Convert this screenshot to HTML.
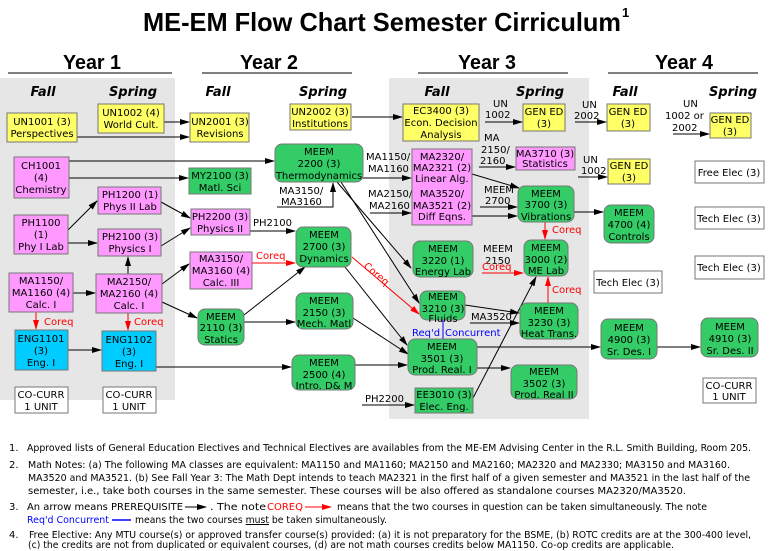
<!DOCTYPE html>
<html><head><meta charset="utf-8"><style>
body{margin:0;background:#fff}
svg{display:block}
text{font-family:"DejaVu Sans","Liberation Sans",sans-serif;font-size:10px;fill:#000}
.b text{text-anchor:middle}
.t{font-family:"Liberation Sans",sans-serif;font-weight:bold}
.s{font-family:"DejaVu Sans",sans-serif;font-weight:bold;font-style:italic;font-size:13px;text-anchor:middle}
.y{fill:#ffff66;stroke:#777;stroke-width:1}
.p{fill:#ff99ff;stroke:#777;stroke-width:1}
.g{fill:#33cc66;stroke:#777;stroke-width:1}
.c{fill:#00ccff;stroke:#777;stroke-width:1}
.w{fill:#fff;stroke:#777;stroke-width:1}
.l{stroke:#000;stroke-width:1;fill:none}
.r{stroke:#f00;stroke-width:1;fill:none}
.red{fill:#f00}
.n{font-family:"Liberation Sans",sans-serif;font-size:9.6px}
</style></head><body>
<svg width="771" height="551" xmlns="http://www.w3.org/2000/svg">
<defs>
<marker id="a" markerWidth="10" markerHeight="8" refX="9" refY="4" orient="auto" markerUnits="userSpaceOnUse"><path d="M0,1 L10,4 L0,7 z" fill="#000"/></marker>
<marker id="ar" markerWidth="10" markerHeight="8" refX="9" refY="4" orient="auto" markerUnits="userSpaceOnUse"><path d="M0,1 L10,4 L0,7 z" fill="#f00"/></marker>
</defs>
<rect x="0" y="78" width="175" height="322" fill="#e6e6e6"/>
<rect x="389" y="78" width="200" height="341" fill="#e6e6e6"/>

<text class="t" x="143" y="31" style="font-size:26px" textLength="478" lengthAdjust="spacingAndGlyphs">ME-EM Flow Chart Semester Cirriculum</text>
<text class="t" x="622" y="17" style="font-size:13px">1</text>
<text class="t" x="63" y="69" style="font-size:20px" textLength="58" lengthAdjust="spacingAndGlyphs">Year 1</text>
<text class="t" x="240" y="69" style="font-size:20px" textLength="58" lengthAdjust="spacingAndGlyphs">Year 2</text>
<text class="t" x="458" y="69" style="font-size:20px" textLength="58" lengthAdjust="spacingAndGlyphs">Year 3</text>
<text class="t" x="655" y="69" style="font-size:20px" textLength="58" lengthAdjust="spacingAndGlyphs">Year 4</text>
<line x1="8" y1="73" x2="172" y2="73" stroke="#000"/>
<line x1="202" y1="73" x2="352" y2="73" stroke="#000"/>
<line x1="418" y1="73" x2="568" y2="73" stroke="#000"/>
<line x1="608" y1="73" x2="758" y2="73" stroke="#000"/>
<text class="s" x="43" y="96">Fall</text>
<text class="s" x="133" y="96">Spring</text>
<text class="s" x="218" y="96">Fall</text>
<text class="s" x="323" y="96">Spring</text>
<text class="s" x="437" y="96">Fall</text>
<text class="s" x="540" y="96">Spring</text>
<text class="s" x="625" y="96">Fall</text>
<text class="s" x="733" y="96">Spring</text>

<g class="l" marker-end="url(#a)">
<path d="M77,137 H189"/>
<path d="M164,122 H189"/>
<path d="M352,117 H402"/>
<path d="M69,161 H274"/>
<path d="M69,178 H188"/>
<path d="M68,230 L97,201"/>
<path d="M68,243 H97"/>
<path d="M161,202 L190,218"/>
<path d="M161,246 L190,228"/>
<path d="M250,231 H295"/>
<path d="M73,293 H95"/>
<path d="M128,274 V257"/>
<path d="M162,284 L189,264"/>
<path d="M162,302 L197,318"/>
<path d="M244,315 L305,267"/>
<path d="M244,322 H295"/>
<path d="M68,350 H101"/>
<path d="M156,367 H291"/>
<path d="M277,207 H333 V183"/>
<path d="M363,178 H411"/>
<path d="M370,213 H411"/>
<path d="M337,182 L411,268"/>
<path d="M341,182 L419,303"/>
<path d="M345,267 L407,345"/>
<path d="M353,318 L408,354"/>
<path d="M355,365 H407"/>
<path d="M362,405 H414"/>
<path d="M473,398 L536,277"/>
<path d="M465,305 L519,313"/>
<path d="M470,323 H519"/>
<path d="M472,174 L519,188"/>
<path d="M472,216 H517"/>
<path d="M480,207 H517"/>
<path d="M485,122 H522"/>
<path d="M479,167 H515"/>
<path d="M575,122 H606"/>
<path d="M578,177 H607"/>
<path d="M574,212 H603"/>
<path d="M673,134 H709"/>
<path d="M477,347 H600"/>
<path d="M657,347 H700"/>
<path d="M477,368 H510"/>
</g>
<g class="r" marker-end="url(#ar)">
<path d="M252,263 H295"/>
<path d="M352,257 L419,314"/>
<path d="M36,312 V329"/>
<path d="M128,313 V330"/>
<path d="M482,273 H523"/>
<path d="M548,303 V277"/>
<path d="M545,222 V239"/>
</g>
<line x1="443" y1="320" x2="443" y2="340" stroke="#00f"/>

<g>
<text x="253" y="226">PH2100</text>
<text class="red" x="256" y="259">Coreq</text>
<text class="red" x="44" y="325">Coreq</text>
<text class="red" x="134" y="325">Coreq</text>
<text x="279" y="194">MA3150/</text>
<text x="281" y="205">MA3160</text>
<text x="366" y="160">MA1150/</text>
<text x="368" y="172">MA1160</text>
<text x="368" y="197">MA2150/</text>
<text x="369" y="209">MA2160</text>
<text class="red" x="363" y="267" transform="rotate(40 363 267)">Coreq</text>
<text x="484" y="193">MEEM</text>
<text x="485" y="204">2700</text>
<text x="483" y="252">MEEM</text>
<text x="485" y="264">2150</text>
<text class="red" x="482" y="270">Coreq</text>
<text class="red" x="552" y="233">Coreq</text>
<text class="red" x="552" y="293">Coreq</text>
<text x="471" y="320">MA3520</text>
<text x="412" y="336" style="fill:#00f">Req'd</text>
<text x="445" y="336" style="fill:#00f">Concurrent</text>
<text x="365" y="402">PH2200</text>
<text x="493" y="107">UN</text>
<text x="485" y="118">1002</text>
<text x="484" y="141">MA</text>
<text x="481" y="153">2150/</text>
<text x="480" y="164">2160</text>
<text x="582" y="108">UN</text>
<text x="574" y="119">2002</text>
<text x="583" y="163">UN</text>
<text x="581" y="174">1002</text>
<text x="683" y="107">UN</text>
<text x="665" y="119">1002 or</text>
<text x="672" y="131">2002</text>
</g>

<g class="b">
<rect class="y" x="7" y="113" width="70" height="29"/><text x="42" y="125">UN1001 (3)</text><text x="42" y="137">Perspectives</text>
<rect class="y" x="98" y="104" width="66" height="29"/><text x="131" y="116">UN1002 (4)</text><text x="131" y="128">World Cult.</text>
<rect class="y" x="190" y="113" width="59" height="29"/><text x="220" y="125">UN2001 (3)</text><text x="220" y="137">Revisions</text>
<rect class="y" x="290" y="104" width="61" height="26"/><text x="320" y="115">UN2002 (3)</text><text x="320" y="127">Institutions</text>
<rect class="p" x="14" y="157" width="55" height="41"/><text x="41" y="169">CH1001</text><text x="41" y="181">(4)</text><text x="41" y="193">Chemistry</text>
<rect class="g" x="189" y="168" width="62" height="26"/><text x="220" y="179">MY2100 (3)</text><text x="220" y="191">Matl. Sci</text>
<rect class="g" x="275" y="144" width="88" height="38" rx="7"/><text x="319" y="155">MEEM</text><text x="319" y="167">2200 (3)</text><text x="319" y="179">Thermodynamics</text>
<rect class="p" x="98" y="187" width="63" height="27"/><text x="130" y="198">PH1200 (1)</text><text x="130" y="210">Phys II Lab</text>
<rect class="p" x="14" y="215" width="54" height="39"/><text x="41" y="226">PH1100</text><text x="41" y="238">(1)</text><text x="41" y="250">Phy I Lab</text>
<rect class="p" x="98" y="229" width="63" height="27"/><text x="130" y="240">PH2100 (3)</text><text x="130" y="252">Physics I</text>
<rect class="p" x="191" y="209" width="59" height="26"/><text x="220" y="220">PH2200 (3)</text><text x="220" y="232">Physics II</text>
<rect class="g" x="296" y="227" width="55" height="40" rx="7"/><text x="324" y="238">MEEM</text><text x="324" y="250">2700 (3)</text><text x="324" y="262">Dynamics</text>
<rect class="p" x="190" y="252" width="62" height="37"/><text x="221" y="262">MA3150/</text><text x="221" y="274">MA3160 (4)</text><text x="221" y="286">Calc. III</text>
<rect class="p" x="9" y="273" width="64" height="39"/><text x="41" y="284">MA1150/</text><text x="41" y="296">MA1160 (4)</text><text x="41" y="308">Calc. I</text>
<rect class="p" x="96" y="274" width="66" height="39"/><text x="129" y="285">MA2150/</text><text x="129" y="297">MA2160 (4)</text><text x="129" y="309">Calc. I</text>
<rect class="g" x="198" y="309" width="46" height="36" rx="7"/><text x="221" y="320">MEEM</text><text x="221" y="331">2110 (3)</text><text x="221" y="343">Statics</text>
<rect class="g" x="296" y="293" width="57" height="36" rx="7"/><text x="324" y="304">MEEM</text><text x="324" y="316">2150 (3)</text><text x="324" y="327">Mech. Matl</text>
<rect class="c" x="15" y="330" width="53" height="40"/><text x="41" y="342">ENG1101</text><text x="41" y="354">(3)</text><text x="41" y="366">Eng. I</text>
<rect class="c" x="102" y="331" width="54" height="40"/><text x="129" y="343">ENG1102</text><text x="129" y="355">(3)</text><text x="129" y="367">Eng. I</text>
<rect class="g" x="292" y="355" width="63" height="35" rx="7"/><text x="324" y="366">MEEM</text><text x="324" y="378">2500 (4)</text><text x="324" y="389">Intro. D&amp; M</text>
<rect class="w" x="15" y="387" width="53" height="26"/><text x="41" y="398">CO-CURR</text><text x="41" y="410">1 UNIT</text>
<rect class="w" x="103" y="387" width="53" height="26"/><text x="129" y="398">CO-CURR</text><text x="129" y="410">1 UNIT</text>

<rect class="y" x="403" y="104" width="76" height="37"/><text x="441" y="114">EC3400 (3)</text><text x="441" y="126">Econ. Decision</text><text x="441" y="138">Analysis</text>
<rect class="y" x="523" y="104" width="42" height="27"/><text x="544" y="115">GEN ED</text><text x="544" y="127">(3)</text>
<rect class="y" x="607" y="104" width="43" height="27"/><text x="628" y="115">GEN ED</text><text x="628" y="127">(3)</text>
<rect class="p" x="412" y="149" width="60" height="76"/><text x="442" y="160">MA2320/</text><text x="442" y="171">MA2321 (2)</text><text x="442" y="182">Linear Alg.</text><text x="442" y="197">MA3520/</text><text x="442" y="209">MA3521 (2)</text><text x="442" y="220">Diff Eqns.</text>
<rect class="p" x="516" y="147" width="59" height="23"/><text x="545" y="157">MA3710 (3)</text><text x="545" y="167">Statistics</text>
<rect class="y" x="608" y="159" width="42" height="25"/><text x="629" y="169">GEN ED</text><text x="629" y="181">(3)</text>
<rect class="g" x="518" y="186" width="56" height="36" rx="7"/><text x="546" y="197">MEEM</text><text x="546" y="208">3700 (3)</text><text x="546" y="220">Vibrations</text>
<rect class="g" x="604" y="205" width="50" height="38" rx="7"/><text x="629" y="216">MEEM</text><text x="629" y="228">4700 (4)</text><text x="629" y="240">Controls</text>
<rect class="g" x="413" y="241" width="60" height="36" rx="7"/><text x="443" y="252">MEEM</text><text x="443" y="264">3220 (1)</text><text x="443" y="275">Energy Lab</text>
<rect class="g" x="524" y="240" width="44" height="36" rx="7"/><text x="546" y="251">MEEM</text><text x="546" y="263">3000 (2)</text><text x="546" y="274">ME Lab</text>
<rect class="g" x="420" y="291" width="45" height="29" rx="7"/><text x="443" y="300">MEEM</text><text x="443" y="312">3210 (3)</text><text x="443" y="322">Fluids</text>
<rect class="g" x="520" y="303" width="58" height="36" rx="7"/><text x="549" y="314">MEEM</text><text x="549" y="326">3230 (3)</text><text x="549" y="337">Heat Trans.</text>
<rect class="g" x="408" y="339" width="69" height="36" rx="7"/><text x="442" y="350">MEEM</text><text x="442" y="362">3501 (3)</text><text x="442" y="373">Prod. Real. I</text>
<rect class="g" x="511" y="365" width="66" height="34" rx="7"/><text x="544" y="375">MEEM</text><text x="544" y="387">3502 (3)</text><text x="544" y="398">Prod. Real II</text>
<rect class="g" x="415" y="388" width="58" height="25"/><text x="444" y="398">EE3010 (3)</text><text x="444" y="410">Elec. Eng.</text>
<rect class="w" x="594" y="271" width="68" height="22"/><text x="628" y="286">Tech Elec (3)</text>
<rect class="g" x="601" y="319" width="56" height="40" rx="7"/><text x="629" y="331">MEEM</text><text x="629" y="343">4900 (3)</text><text x="629" y="355">Sr. Des. I</text>
<rect class="g" x="701" y="318" width="57" height="39" rx="7"/><text x="730" y="330">MEEM</text><text x="730" y="342">4910 (3)</text><text x="730" y="354">Sr. Des. II</text>
<rect class="y" x="710" y="113" width="41" height="25"/><text x="730" y="123">GEN ED</text><text x="730" y="135">(3)</text>
<rect class="w" x="695" y="161" width="69" height="22"/><text x="729" y="176">Free Elec (3)</text>
<rect class="w" x="695" y="207" width="69" height="22"/><text x="729" y="222">Tech Elec (3)</text>
<rect class="w" x="695" y="256" width="69" height="23"/><text x="729" y="271">Tech Elec (3)</text>
<rect class="w" x="703" y="378" width="53" height="25"/><text x="729" y="389">CO-CURR</text><text x="729" y="400">1 UNIT</text>
</g>

<g class="n">
<text x="9" y="451">1.</text><text x="27" y="451" textLength="724" lengthAdjust="spacingAndGlyphs">Approved lists of General Education Electives and Technical Electives are availables from the ME-EM Advising Center in the R.L. Smith Building, Room 205.</text>
<text x="9" y="468">2.</text><text x="28" y="468" textLength="702" lengthAdjust="spacingAndGlyphs">Math Notes: (a) The following MA classes are equivalent: MA1150 and MA1160; MA2150 and MA2160; MA2320 and MA2330; MA3150 and MA3160.</text>
<text x="28" y="481" textLength="722" lengthAdjust="spacingAndGlyphs">MA3520 and MA3521. (b) See Fall Year 3: The Math Dept intends to teach MA2321 in the first half of a given semester and MA3521 in the last half of the</text>
<text x="28" y="494" textLength="658" lengthAdjust="spacingAndGlyphs">semester, i.e., take both courses in the same semester. These courses will be also offered as standalone courses MA2320/MA3520.</text>
<text x="9" y="510">3.</text><text x="27" y="510" textLength="156" lengthAdjust="spacingAndGlyphs">An arrow means PREREQUISITE</text>
<line x1="185" y1="507" x2="206" y2="507" stroke="#000" marker-end="url(#a)"/>
<text x="210" y="510" textLength="56" lengthAdjust="spacingAndGlyphs">. The note</text>
<text x="267" y="510" style="fill:#f00">COREQ</text>
<line x1="305" y1="507" x2="331" y2="507" stroke="#f00" marker-end="url(#ar)"/>
<text x="337" y="510" textLength="370" lengthAdjust="spacingAndGlyphs">means that the two courses in question can be taken simultaneously. The note</text>
<text x="27" y="523" style="fill:#00f" textLength="82" lengthAdjust="spacingAndGlyphs">Req'd Concurrent</text>
<line x1="112" y1="520" x2="131" y2="520" stroke="#00f" stroke-width="1.5"/>
<text x="135" y="523" textLength="252" lengthAdjust="spacingAndGlyphs">means the two courses <tspan text-decoration="underline">must</tspan> be taken simultaneously.</text>
<text x="9" y="538">4.</text><text x="29" y="538" textLength="722" lengthAdjust="spacingAndGlyphs">Free Elective: Any MTU course(s) or approved transfer course(s) provided: (a) it is not preparatory for the BSME, (b) ROTC credits are at the 300-400 level,</text>
<text x="28" y="548" textLength="646" lengthAdjust="spacingAndGlyphs">(c) the credits are not from duplicated or equivalent courses, (d) are not math courses credits below MA1150. Co-op credits are applicable.</text>
</g>
</svg>
</body></html>
